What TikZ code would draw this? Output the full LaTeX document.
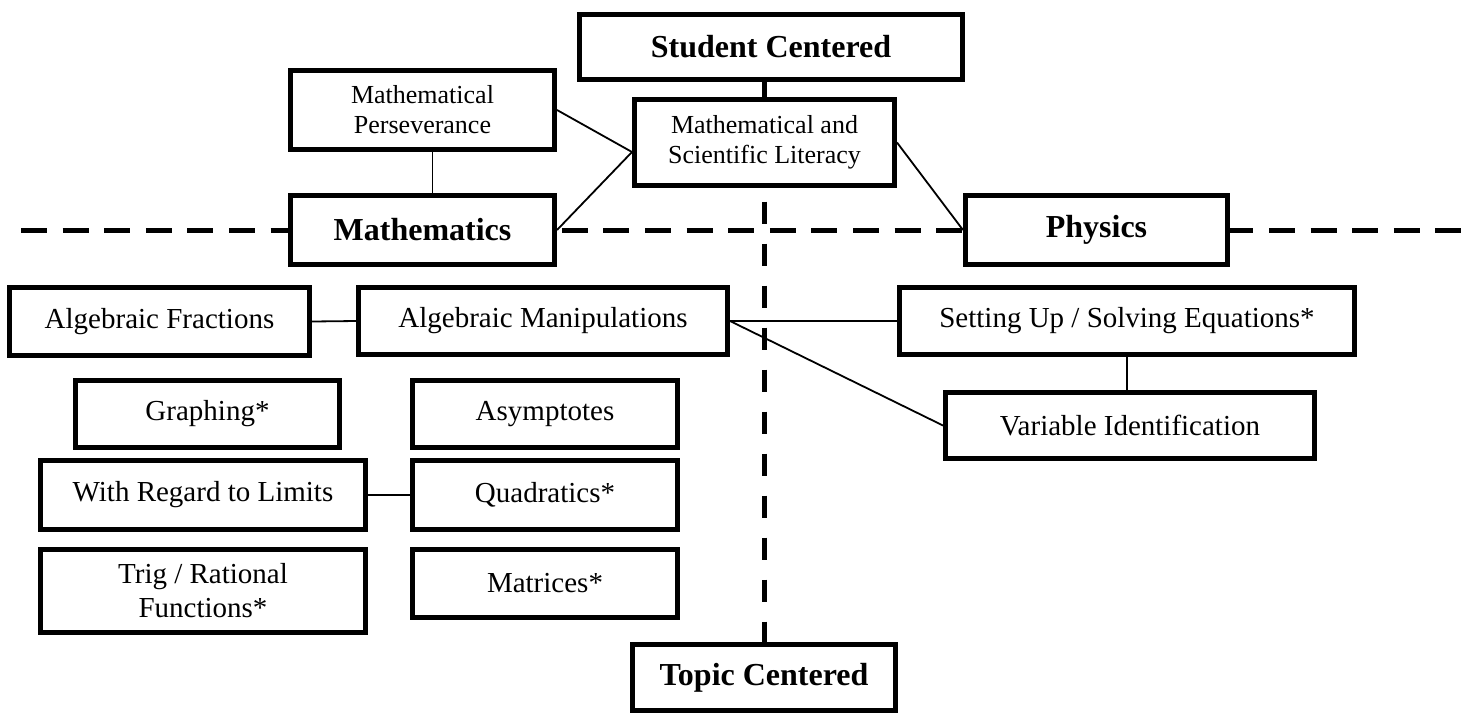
\documentclass[tikz,border=0pt]{standalone}
\usepackage{fontspec}
\setmainfont{Liberation Serif}
\usetikzlibrary{calc}
\pgfdeclarelayer{background}
\pgfsetlayers{background,main}
\tikzset{
  box/.style={draw, line width=2.5pt, fill=white, inner sep=0pt, align=center,
    font=\fontsize{14.5}{17}\selectfont},
  headbox/.style={box, font=\fontsize{16}{19}\selectfont\bfseries},
  smallbox/.style={box, font=\fontsize{13}{15}\selectfont},
  link/.style={line width=0.9pt},
  haxis/.style={line width=2.5pt, dash pattern=on 13pt off 7.8pt},
  vaxis/.style={line width=2.5pt, dash pattern=on 11pt off 10pt, dash phase=3.25pt},
}
\begin{document}
\begin{tikzpicture}[x=0.5pt, y=-0.5pt]
\useasboundingbox (0,0) rectangle (1471,713);

% header / axis boxes
\node[headbox, minimum width=191.5pt, minimum height=32.5pt] (stud) at (771,47) {Student Centered};
\node[smallbox, minimum width=132pt, minimum height=39.5pt] (pers) at (422.5,110) {Mathematical\\Perseverance};
\node[smallbox, minimum width=130pt, minimum height=43pt] (lit) at (764.5,142.5) {Mathematical and\\Scientific Literacy};
\node[headbox, minimum width=132pt, minimum height=34.5pt] (math) at (422.5,230) {Mathematics};
\node[headbox, minimum width=131pt, minimum height=34.5pt] (phys) at (1096.5,230) {Physics};
\node[headbox, minimum width=131.5pt, minimum height=33pt] (topic) at (764,677.5) {Topic Centered};

% topic boxes
\node[box, minimum width=150pt, minimum height=34pt] (frac) at (159.5,321.5) {Algebraic Fractions};
\node[box, minimum width=184.5pt, minimum height=33.5pt] (manip) at (543,321) {Algebraic Manipulations};
\node[box, minimum width=227.5pt, minimum height=33.5pt] (setup) at (1127,321) {Setting Up / Solving Equations*};
\node[box, minimum width=184.5pt, minimum height=33pt] (var) at (1130,425.5) {Variable Identification};
\node[box, minimum width=132pt, minimum height=33.5pt] (graph) at (207.5,414) {Graphing*};
\node[box, minimum width=132.5pt, minimum height=33.5pt] (asym) at (545,414) {Asymptotes};
\node[box, minimum width=162.5pt, minimum height=34.5pt] (lim) at (203,495) {With Regard to Limits};
\node[box, minimum width=132.5pt, minimum height=34.5pt] (quad) at (545,495) {Quadratics*};
\node[box, minimum width=162.5pt, minimum height=41.5pt] (trig) at (203,591) {Trig / Rational\\Functions*};
\node[box, minimum width=132.5pt, minimum height=34pt] (matr) at (545,583.5) {Matrices*};

\coordinate (hl) at (21,230);
\coordinate (hr) at (1471,230);

\begin{pgfonlayer}{background}
  \draw[haxis] (hl) -- (hr);
  \draw[vaxis] (stud.south -| topic.north) -- (topic.north);
\end{pgfonlayer}

% connectors
\draw[link] (pers.east) -- ($(lit.west)+(0,9.5)$);
\draw[link] (math.east) -- ($(lit.west)+(0,9.5)$);
\draw[link] ($(pers.south)+(10,0)$) -- ($(math.north)+(10,0)$);
\draw[link] (lit.east) -- (phys.west);
\draw[link] (frac.east) -- (manip.west);
\draw[link] (manip.east) -- (manip.east -| setup.west);
\draw[link] (manip.east) -- (var.west);
\draw[link] (setup.south) -- (setup.south |- var.north);
\draw[link] (lim.east) -- (quad.west);
\end{tikzpicture}
\end{document}
